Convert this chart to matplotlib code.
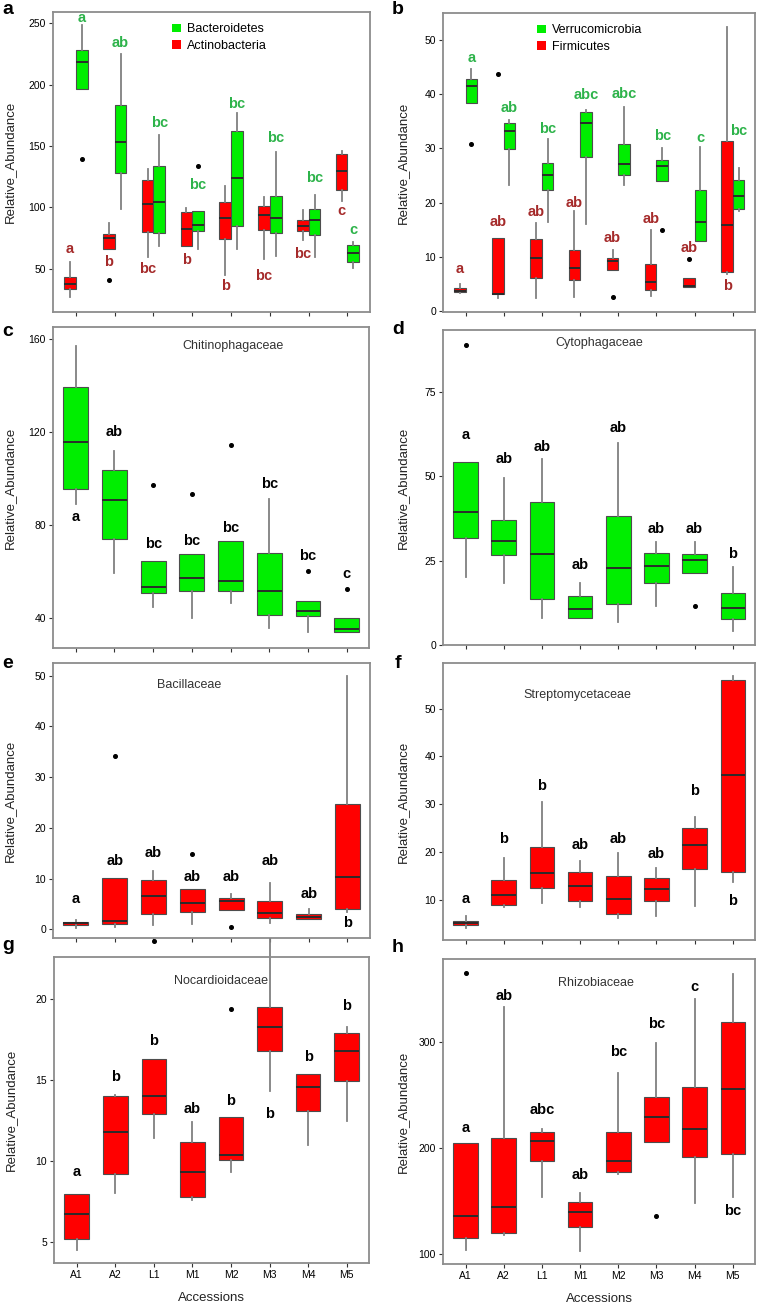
import matplotlib
matplotlib.use('Agg')
import matplotlib.pyplot as plt
from matplotlib.patches import Patch

plt.rcParams['font.family'] = ['Liberation Sans', 'DejaVu Sans']

W, H = 759, 1305
accessions = ['A1', 'A2', 'L1', 'M1', 'M2', 'M3', 'M4', 'M5']

GREEN = '#00ee00'
RED = '#ff0000'
GREEN_TXT = '#2db34a'
RED_TXT = '#a52a2a'

# each row: [whisker low, q1, median, q3, whisker high]
# --- panel a
bacteroidetes = [[196, 196, 218, 228, 248.6], [99, 128, 153, 183, 225],
                 [69, 79.3, 104.5, 134, 159], [66, 80.6, 86, 97.4, 97.4],
                 [66.5, 85, 124, 162.5, 177], [60.3, 79.3, 91.5, 109.6, 144.8],
                 [59.7, 77.9, 90, 98.8, 109.9], [50.8, 55.7, 63, 69.7, 72]]
bacteroidetes_out = {0: [139.5], 3: [133.4]}
bacteroidetes_let = ['a', 'ab', 'bc', 'bc', 'bc', 'bc', 'bc', 'c']
bacteroidetes_let_y = [254, 234, 169, 118.6, 184, 156.5, 124, 82]

actinobacteria = [[27, 33.7, 38, 43.5, 55.7], [66, 66, 75, 78.5, 87],
                  [60, 79.8, 103, 122, 131], [68.4, 68.4, 82.5, 96.3, 99.6],
                  [45.4, 74.4, 91.5, 104.2, 117.7], [58, 81.7, 94, 101, 108.5],
                  [73.8, 80.6, 85, 89.6, 97.7], [105, 114.5, 130, 143.7, 146]]
actinobacteria_out = {1: [41]}
actinobacteria_let = ['a', 'b', 'bc', 'b', 'b', 'bc', 'bc', 'c']
actinobacteria_let_y = [66, 56, 50, 57.6, 35.8, 44.6, 62.4, 97.4]

# --- panel b
verrucomicrobia = [[38.3, 38.3, 41.5, 42.8, 44.6], [23.3, 29.8, 33.3, 34.6, 35.2],
                   [16.5, 22.4, 25, 27.3, 31.7], [16.1, 28.5, 34.7, 36.8, 37.1],
                   [23.3, 25.1, 27.1, 30.8, 37.6], [23.9, 23.9, 26.8, 27.8, 30],
                   [12.9, 12.9, 16.5, 22.4, 30.3], [18.4, 18.9, 21.2, 24.1, 26.4]]
verrucomicrobia_out = {0: [30.9], 5: [15.0]}
verrucomicrobia_let = ['a', 'ab', 'bc', 'abc', 'abc', 'bc', 'c', 'bc']
verrucomicrobia_let_y = [46.6, 37.5, 33.6, 39.9, 40, 32.2, 31.9, 33.3]

firmicutes = [[3.3, 3.4, 3.7, 4.2, 5.0], [2.4, 3.1, 3.2, 13.4, 13.4],
              [2.4, 6.1, 9.8, 13.2, 16.2], [2.6, 5.7, 7.9, 11.3, 18.5],
              [7.5, 7.5, 9.3, 9.8, 11.2], [2.7, 3.8, 5.3, 8.6, 15.0],
              [4.4, 4.4, 4.6, 6.1, 6.1], [6.9, 7.2, 15.8, 31.3, 52.4]]
firmicutes_out = {1: [43.7], 4: [2.5], 6: [9.5]}
firmicutes_let = ['a', 'ab', 'ab', 'ab', 'ab', 'ab', 'ab', 'b']
firmicutes_let_y = [7.8, 16.5, 18.2, 19.9, 13.5, 17.0, 11.7, 4.6]

# --- panel c
chitinophagaceae = [[89.2, 95.7, 115.6, 139.5, 157.3], [59.1, 73.9, 90.7, 103.6, 111.9],
                    [44.5, 50.5, 53.4, 64.3, 64.3], [40, 51.6, 57.2, 67.3, 67.3],
                    [46.5, 51.6, 56, 73, 73], [35.8, 41.2, 51.5, 68.1, 91.1],
                    [33.7, 40.7, 43, 47.3, 47.3], [33.7, 34, 35, 40, 40]]
chitinophagaceae_out = {2: [97.1], 3: [93.5], 4: [114.4], 6: [60.2], 7: [52.3]}
chitinophagaceae_let = ['a', 'ab', 'bc', 'bc', 'bc', 'bc', 'bc', 'c']
chitinophagaceae_let_y = [83.5, 120.1, 72, 73, 78.9, 97.8, 66.7, 58.8]

# --- panel d
cytophagaceae = [[20.2, 31.6, 39.3, 54.3, 54.3], [18.5, 26.7, 30.9, 37, 49.6],
                 [7.9, 13.5, 26.9, 42.4, 55.1], [8.1, 8.1, 10.8, 14.5, 18.3],
                 [6.9, 12.1, 22.7, 38.2, 59.9], [11.5, 18.3, 23.4, 27.3, 30.6],
                 [21.2, 21.2, 25.2, 26.9, 30.6], [4.1, 7.6, 10.9, 15.3, 23.2]]
cytophagaceae_out = {0: [88.8], 6: [11.6]}
cytophagaceae_let = ['a', 'ab', 'ab', 'ab', 'ab', 'ab', 'ab', 'b']
cytophagaceae_let_y = [62.2, 55, 58.7, 23.7, 64.2, 34.3, 34.3, 26.9]

# --- panel e
bacillaceae = [[0.3, 0.85, 1.3, 1.5, 1.8], [0.5, 1.0, 1.6, 10.05, 10.05],
               [0.85, 3.1, 6.6, 9.7, 11.5], [1.1, 3.4, 5.1, 8.0, 8.0],
               [3.9, 3.9, 5.5, 6.2, 7.0], [1.3, 2.2, 3.3, 5.5, 9.2],
               [2.0, 2.0, 2.4, 3.0, 4.0], [3.5, 4.1, 10.4, 24.7, 50]]
bacillaceae_out = {1: [34.2], 3: [14.9], 4: [0.4]}
bacillaceae_let = ['a', 'ab', 'ab', 'ab', 'ab', 'ab', 'ab', 'b']
bacillaceae_let_y = [6.0, 13.5, 15.0, 10.4, 10.4, 13.5, 6.9, 1.2]

# --- panel f
streptomycetaceae = [[4.3, 4.8, 5.3, 5.7, 6.7], [8.6, 9.1, 11.0, 14.2, 18.8],
                     [9.5, 12.6, 15.7, 21.1, 30.5], [8.6, 9.8, 12.9, 15.9, 18.1],
                     [6.2, 7.2, 10.2, 15.0, 19.9], [6.7, 9.9, 12.4, 14.7, 16.7],
                     [8.8, 16.5, 21.5, 25.0, 27.3], [13.8, 15.9, 36.1, 55.9, 56.8]]
streptomycetaceae_out = {}
streptomycetaceae_let = ['a', 'b', 'b', 'ab', 'ab', 'ab', 'b', 'b']
streptomycetaceae_let_y = [10.3, 22.7, 33.8, 21.6, 22.7, 19.7, 32.7, 9.9]

# --- panel g
nocardioidaceae = [[4.5, 5.2, 6.7, 7.95, 7.95], [8.0, 9.2, 11.8, 14.0, 14.1],
                   [11.4, 12.9, 14.0, 16.3, 16.3], [7.6, 7.8, 9.3, 11.2, 12.4],
                   [9.3, 10.05, 10.4, 12.7, 12.7], [14.3, 16.8, 18.25, 19.5, 23.7],
                   [11.0, 13.1, 14.6, 15.4, 15.4], [12.5, 14.95, 16.8, 17.9, 18.3]]
nocardioidaceae_out = {2: [23.6], 4: [19.4]}
nocardioidaceae_let = ['a', 'b', 'b', 'ab', 'b', 'b', 'b', 'b']
nocardioidaceae_let_y = [9.3, 15.2, 17.4, 13.2, 13.7, 12.9, 16.4, 19.6]

# --- panel h
rhizobiaceae = [[103.5, 114.5, 135.5, 204.7, 204.7], [117.6, 120, 143.7, 208.8, 332.4],
                [153.8, 187.4, 206.6, 215.1, 217.6], [102.5, 125.5, 139.6, 149, 156.9],
                [174.8, 177.4, 187.4, 215.1, 270.8], [205.7, 205.7, 229.2, 247.5, 299],
                [148.1, 190.9, 217.6, 257.5, 340.3], [153.8, 193.7, 255, 318.2, 364]]
rhizobiaceae_out = {0: [364.5], 5: [135.5]}
rhizobiaceae_let = ['a', 'ab', 'abc', 'ab', 'bc', 'bc', 'c', 'bc']
rhizobiaceae_let_y = [219, 343.4, 235.5, 174.2, 290.6, 316.7, 351.9, 140.3]


def make_stats(rows, outliers):
    stats = []
    for i, (lo, q1, med, q3, hi) in enumerate(rows):
        stats.append(dict(whislo=lo, q1=q1, med=med, q3=q3, whishi=hi,
                          fliers=outliers.get(i, [])))
    return stats


def draw_boxes(ax, rows, outliers, color, offset=0.0, width=0.64):
    pos = [i + 1 + offset for i in range(len(rows))]
    ax.bxp(make_stats(rows, outliers), positions=pos, widths=width,
           patch_artist=True, showcaps=False, manage_ticks=False,
           boxprops=dict(facecolor=color, edgecolor='#4d4d4d', linewidth=0.8),
           medianprops=dict(color='#2b2b2b', linewidth=1.4),
           whiskerprops=dict(color='#808080', linewidth=1.3),
           flierprops=dict(marker='o', markersize=2.6, markerfacecolor='black',
                           markeredgecolor='black', clip_on=False))
    # some whiskers / outliers sit past the frame in the original
    for art in ax.lines:
        art.set_clip_on(False)
    return pos


def add_letters(ax, pos, letters, ys, color='black', size=10.5):
    for x, t, y in zip(pos, letters, ys):
        ax.text(x, y, t, ha='center', va='center', fontsize=size,
                fontweight='bold', color=color)


def new_axes(fig, left, right, top, bottom):
    ax = fig.add_axes([left / W, 1 - bottom / H, (right - left) / W, (bottom - top) / H])
    for sp in ax.spines.values():
        sp.set_color('#8c8c8c')
        sp.set_linewidth(1.3)
    ax.set_xlim(0.41, 8.58)
    ax.set_xticks(range(1, 9))
    ax.tick_params(axis='both', length=3, width=0.8, color='#333333',
                   labelsize=7.5, pad=2)
    ax.set_xticklabels([])
    return ax


def set_ylab(ax, xfrac):
    ax.set_ylabel('Relative_Abundance', fontsize=9.5, color='#222222')
    ax.yaxis.set_label_coords(xfrac, 0.5)


fig = plt.figure(figsize=(W / 100, H / 100), dpi=100)
fig.patch.set_facecolor('white')

LEFT_YLAB = -0.118
RIGHT_YLAB = -0.11

# a
ax = new_axes(fig, 53, 370, 12, 312)
ax.set_ylim(15, 259)
ax.set_yticks([50, 100, 150, 200, 250])
p = draw_boxes(ax, actinobacteria, actinobacteria_out, RED, -0.15, 0.30)
add_letters(ax, p, actinobacteria_let, actinobacteria_let_y, RED_TXT)
p = draw_boxes(ax, bacteroidetes, bacteroidetes_out, GREEN, 0.15, 0.30)
add_letters(ax, p, bacteroidetes_let, bacteroidetes_let_y, GREEN_TXT)
ax.legend(handles=[Patch(facecolor=GREEN, edgecolor='none', label='Bacteroidetes'),
                   Patch(facecolor=RED, edgecolor='none', label='Actinobacteria')],
          loc='upper left', bbox_to_anchor=(0.34, 1.0), frameon=False, fontsize=9,
          handlelength=0.7, handleheight=0.7, handletextpad=0.5, labelspacing=0.35)
set_ylab(ax, LEFT_YLAB)

# b
ax = new_axes(fig, 443, 755, 13, 312)
ax.set_ylim(-0.2, 55)
ax.set_yticks([0, 10, 20, 30, 40, 50])
p = draw_boxes(ax, firmicutes, firmicutes_out, RED, -0.15, 0.30)
add_letters(ax, p, firmicutes_let, firmicutes_let_y, RED_TXT)
p = draw_boxes(ax, verrucomicrobia, verrucomicrobia_out, GREEN, 0.15, 0.30)
add_letters(ax, p, verrucomicrobia_let, verrucomicrobia_let_y, GREEN_TXT)
ax.legend(handles=[Patch(facecolor=GREEN, edgecolor='none', label='Verrucomicrobia'),
                   Patch(facecolor=RED, edgecolor='none', label='Firmicutes')],
          loc='upper left', bbox_to_anchor=(0.265, 1.0), frameon=False, fontsize=9,
          handlelength=0.7, handleheight=0.7, handletextpad=0.5, labelspacing=0.35)
set_ylab(ax, RIGHT_YLAB)

# c
ax = new_axes(fig, 53, 369, 327, 648)
ax.set_ylim(27, 165.3)
ax.set_yticks([40, 80, 120, 160])
p = draw_boxes(ax, chitinophagaceae, chitinophagaceae_out, GREEN)
add_letters(ax, p, chitinophagaceae_let, chitinophagaceae_let_y)
ax.text(0.57, 0.94, 'Chitinophagaceae', transform=ax.transAxes, ha='center',
        va='center', fontsize=9, color='#333333')
set_ylab(ax, LEFT_YLAB)

# d
ax = new_axes(fig, 443, 755, 330, 645)
ax.set_ylim(0, 93.3)
ax.set_yticks([0, 25, 50, 75])
p = draw_boxes(ax, cytophagaceae, cytophagaceae_out, GREEN)
add_letters(ax, p, cytophagaceae_let, cytophagaceae_let_y)
ax.text(0.5, 0.96, 'Cytophagaceae', transform=ax.transAxes, ha='center',
        va='center', fontsize=9, color='#333333')
set_ylab(ax, RIGHT_YLAB)

# e
ax = new_axes(fig, 53, 370, 663, 938)
ax.set_ylim(-1.7, 52.5)
ax.set_yticks([0, 10, 20, 30, 40, 50])
p = draw_boxes(ax, bacillaceae, bacillaceae_out, RED)
add_letters(ax, p, bacillaceae_let, bacillaceae_let_y)
ax.text(0.43, 0.92, 'Bacillaceae', transform=ax.transAxes, ha='center',
        va='center', fontsize=9, color='#333333')
set_ylab(ax, LEFT_YLAB)

# f
ax = new_axes(fig, 443, 755, 663, 940)
ax.set_ylim(1.7, 59.5)
ax.set_yticks([10, 20, 30, 40, 50])
p = draw_boxes(ax, streptomycetaceae, streptomycetaceae_out, RED)
add_letters(ax, p, streptomycetaceae_let, streptomycetaceae_let_y)
ax.text(0.43, 0.885, 'Streptomycetaceae', transform=ax.transAxes, ha='center',
        va='center', fontsize=9, color='#333333')
set_ylab(ax, RIGHT_YLAB)

# g
ax = new_axes(fig, 54, 369, 957, 1263)
ax.set_ylim(3.7, 22.6)
ax.set_yticks([5, 10, 15, 20])
p = draw_boxes(ax, nocardioidaceae, nocardioidaceae_out, RED)
add_letters(ax, p, nocardioidaceae_let, nocardioidaceae_let_y)
ax.text(0.53, 0.92, 'Nocardioidaceae', transform=ax.transAxes, ha='center',
        va='center', fontsize=9, color='#333333')
ax.set_xticklabels(accessions, fontsize=7.5)
ax.set_xlabel('Accessions', fontsize=9.5, color='#222222')
ax.xaxis.set_label_coords(0.5, -0.095)
set_ylab(ax, LEFT_YLAB)

# h
ax = new_axes(fig, 443, 755, 959, 1264)
ax.set_ylim(90.3, 378)
ax.set_yticks([100, 200, 300])
p = draw_boxes(ax, rhizobiaceae, rhizobiaceae_out, RED)
add_letters(ax, p, rhizobiaceae_let, rhizobiaceae_let_y)
ax.text(0.49, 0.92, 'Rhizobiaceae', transform=ax.transAxes, ha='center',
        va='center', fontsize=9, color='#333333')
ax.set_xticklabels(accessions, fontsize=7.5)
ax.set_xlabel('Accessions', fontsize=9.5, color='#222222')
ax.xaxis.set_label_coords(0.5, -0.095)
set_ylab(ax, RIGHT_YLAB)

# panel letters
for lab, x, y in [('a', 8, 9), ('b', 398, 9), ('c', 8, 331), ('d', 398, 329),
                  ('e', 8, 664), ('f', 398, 664), ('g', 8, 945), ('h', 398, 948)]:
    fig.text(x / W, 1 - y / H, lab, fontsize=14, fontweight='bold',
             ha='center', va='center')

fig.savefig('out.png', dpi=100)
